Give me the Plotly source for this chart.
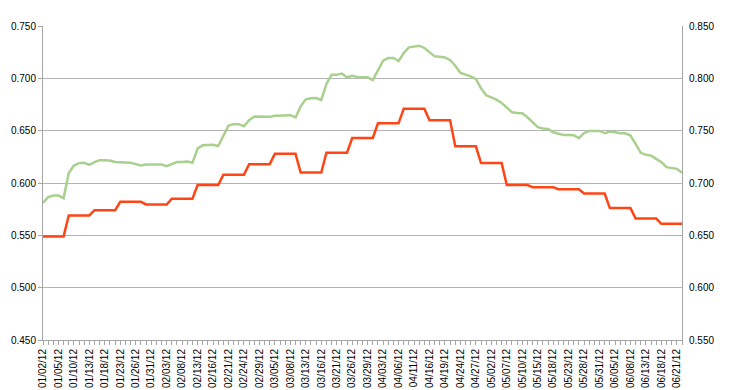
import plotly.graph_objects as go

dates = [
    "01/02/12", "01/03/12", "01/04/12", "01/05/12", "01/06/12", "01/09/12", "01/10/12", "01/11/12",
    "01/12/12", "01/13/12", "01/16/12", "01/17/12", "01/18/12", "01/19/12", "01/20/12", "01/23/12",
    "01/24/12", "01/25/12", "01/26/12", "01/27/12", "01/30/12", "01/31/12",
    "02/01/12", "02/02/12", "02/03/12", "02/06/12", "02/07/12", "02/08/12", "02/09/12", "02/10/12",
    "02/13/12", "02/14/12", "02/15/12", "02/16/12", "02/17/12", "02/20/12", "02/21/12", "02/22/12",
    "02/23/12", "02/24/12", "02/27/12", "02/28/12", "02/29/12",
    "03/01/12", "03/02/12", "03/05/12", "03/06/12", "03/07/12", "03/08/12", "03/09/12", "03/12/12",
    "03/13/12", "03/14/12", "03/15/12", "03/16/12", "03/19/12", "03/20/12", "03/21/12", "03/22/12",
    "03/23/12", "03/26/12", "03/27/12", "03/28/12", "03/29/12", "03/30/12",
    "04/02/12", "04/03/12", "04/04/12", "04/05/12", "04/06/12", "04/09/12", "04/10/12", "04/11/12",
    "04/12/12", "04/13/12", "04/16/12", "04/17/12", "04/18/12", "04/19/12", "04/20/12", "04/23/12",
    "04/24/12", "04/25/12", "04/26/12", "04/27/12", "04/30/12",
    "05/01/12", "05/02/12", "05/03/12", "05/04/12", "05/07/12", "05/08/12", "05/09/12", "05/10/12",
    "05/11/12", "05/14/12", "05/15/12", "05/16/12", "05/17/12", "05/18/12", "05/21/12", "05/22/12",
    "05/23/12", "05/24/12", "05/25/12", "05/28/12", "05/29/12", "05/30/12", "05/31/12",
    "06/01/12", "06/04/12", "06/05/12", "06/06/12", "06/07/12", "06/08/12", "06/11/12", "06/12/12",
    "06/13/12", "06/14/12", "06/15/12", "06/18/12", "06/19/12", "06/20/12", "06/21/12", "06/22/12",
]

tick_labels = [
    "01/02/12", "01/05/12", "01/10/12", "01/13/12", "01/18/12", "01/23/12", "01/26/12", "01/31/12",
    "02/03/12", "02/08/12", "02/13/12", "02/16/12", "02/21/12", "02/24/12", "02/29/12", "03/05/12",
    "03/08/12", "03/13/12", "03/16/12", "03/21/12", "03/26/12", "03/29/12", "04/03/12", "04/06/12",
    "04/11/12", "04/16/12", "04/19/12", "04/24/12", "04/27/12", "05/02/12", "05/07/12", "05/10/12",
    "05/15/12", "05/18/12", "05/23/12", "05/28/12", "05/31/12", "06/05/12", "06/08/12", "06/13/12",
    "06/18/12", "06/21/12",
]

# left axis series (orange, stepped weekly)
orange_values = [
    0.549, 0.549, 0.549, 0.549, 0.549,
    0.569, 0.569, 0.569, 0.569, 0.569,
    0.574, 0.574, 0.574, 0.574, 0.574,
    0.582, 0.582, 0.582, 0.582, 0.582,
    0.5795, 0.5795, 0.5795, 0.5795, 0.5795,
    0.585, 0.585, 0.585, 0.585, 0.585,
    0.598, 0.598, 0.598, 0.598, 0.598,
    0.608, 0.608, 0.608, 0.608, 0.608,
    0.618, 0.618, 0.618, 0.618, 0.618,
    0.628, 0.628, 0.628, 0.628, 0.628,
    0.610, 0.610, 0.610, 0.610, 0.610,
    0.629, 0.629, 0.629, 0.629, 0.629,
    0.643, 0.643, 0.643, 0.643, 0.643,
    0.657, 0.657, 0.657, 0.657, 0.657,
    0.671, 0.671, 0.671, 0.671, 0.671,
    0.660, 0.660, 0.660, 0.660, 0.660,
    0.635, 0.635, 0.635, 0.635, 0.635,
    0.619, 0.619, 0.619, 0.619, 0.619,
    0.598, 0.598, 0.598, 0.598, 0.598,
    0.596, 0.596, 0.596, 0.596, 0.596,
    0.594, 0.594, 0.594, 0.594, 0.594,
    0.590, 0.590, 0.590, 0.590, 0.590,
    0.576, 0.576, 0.576, 0.576, 0.576,
    0.566, 0.566, 0.566, 0.566, 0.566,
    0.561, 0.561, 0.561, 0.561, 0.561,
]

# right axis series (green)
green_values = [
    0.681, 0.6865, 0.688, 0.688, 0.6856, 0.7096, 0.7167, 0.719, 0.7193, 0.7173,
    0.720, 0.7218, 0.7218, 0.7215, 0.720, 0.720, 0.720, 0.7193, 0.718, 0.7167,
    0.7177, 0.7177, 0.7177, 0.7177, 0.716, 0.718, 0.720, 0.720, 0.7205, 0.7193,
    0.733, 0.736, 0.7366, 0.7366, 0.7353, 0.7456, 0.7549, 0.7562, 0.7562, 0.7542,
    0.760, 0.7636, 0.7636, 0.7636, 0.7632, 0.7642, 0.7642, 0.7648, 0.7648, 0.7626,
    0.7732, 0.780, 0.781, 0.7812, 0.7793, 0.7947, 0.8034, 0.8034, 0.8045, 0.801,
    0.8025, 0.8013, 0.8013, 0.801, 0.7984, 0.8083, 0.8169, 0.8194, 0.8194, 0.8165,
    0.8242, 0.8296, 0.8302, 0.8312, 0.829, 0.8254, 0.821, 0.8207, 0.820, 0.8175,
    0.8121, 0.8051, 0.8035, 0.8019, 0.7994, 0.7905, 0.7838, 0.7819, 0.7796, 0.7765,
    0.7723, 0.7676, 0.7669, 0.7666, 0.7628, 0.758, 0.7533, 0.752, 0.7517, 0.7485,
    0.7475, 0.7459, 0.7459, 0.7456, 0.7428, 0.7478, 0.7498, 0.7498, 0.7498, 0.7475,
    0.7491, 0.7485, 0.7475, 0.7475, 0.7453, 0.7374, 0.7288, 0.7269, 0.7262, 0.7231,
    0.7199, 0.7151, 0.7145, 0.7135, 0.7097,
]

font_family = "Liberation Sans, Arial, sans-serif"
axis_grey = "#a6a6a6"

fig = go.Figure()
fig.add_trace(go.Scatter(
    x=dates, y=green_values, yaxis="y2", mode="lines",
    line=dict(color="#A9D08E", width=2.5), hoverinfo="x+y",
))
fig.add_trace(go.Scatter(
    x=dates, y=orange_values, yaxis="y", mode="lines",
    line=dict(color="#FF4515", width=2.5), hoverinfo="x+y",
))

ticktext = [d if d in tick_labels else "" for d in dates]

fig.update_layout(
    width=726, height=382,
    margin=dict(l=35, r=52, t=18, b=50, autoexpand=False),
    paper_bgcolor="white", plot_bgcolor="white",
    showlegend=False,
    font=dict(family=font_family, size=10, color="black"),
    xaxis=dict(
        type="category", categoryorder="array", categoryarray=dates,
        range=[0, len(dates) - 1], automargin=False,
        tickmode="array", tickvals=dates, ticktext=ticktext,
        tickangle=-90, ticks="outside", ticklen=4, tickcolor=axis_grey,
        showgrid=False, showline=True, linecolor=axis_grey, linewidth=1,
        tickfont=dict(size=10),
    ),
    yaxis=dict(
        range=[0.45, 0.75], dtick=0.05, tick0=0.45, tickformat=".3f",
        showgrid=True, gridcolor="#b3b3b3", gridwidth=1, automargin=False,
        showline=True, linecolor=axis_grey, linewidth=1,
        ticks="outside", ticklen=4, tickcolor=axis_grey,
        zeroline=False, tickfont=dict(size=10),
    ),
    yaxis2=dict(
        overlaying="y", side="right", automargin=False,
        range=[0.55, 0.85], dtick=0.05, tick0=0.55, tickformat=".3f",
        showgrid=False, showline=True, linecolor=axis_grey, linewidth=1,
        ticks="", zeroline=False, tickfont=dict(size=10),
        ticklabelstandoff=4,
    ),
)

fig.write_html("out.html")
